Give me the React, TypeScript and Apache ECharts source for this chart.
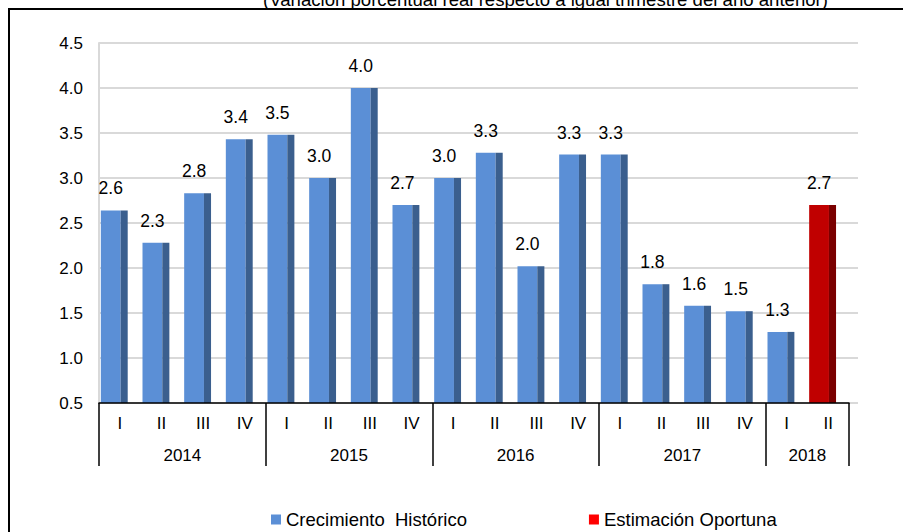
import React, { useEffect, useRef } from "react";
import * as echarts from "echarts";

const years = ["2014", "2015", "2016", "2017", "2018"];
const quartersPerYear = [4, 4, 4, 4, 2];
const quarterNames = ["I", "II", "III", "IV"];
const historico = [2.64, 2.28, 2.83, 3.43, 3.48, 3.0, 4.0, 2.7, 3.0, 3.28, 2.02, 3.26, 3.26, 1.82, 1.58, 1.52, 1.29];
const oportuna = [2.7];
const yTicks = { min: 0.5, max: 4.5, interval: 0.5 };
const titleText = "(Variación porcentual real respecto a igual trimestre del año anterior)";
const seriesNames = ["Crecimiento  Histórico", "Estimación Oportuna"];

const FONT = '"Liberation Sans", Arial, sans-serif';

export default function App() {
  const ref = useRef<HTMLDivElement>(null);
  useEffect(() => {
    document.body.style.margin = "0";
    if (!ref.current) return;
    const chart = echarts.init(ref.current, null, { renderer: "svg" });

    const quarters: string[] = [];
    quartersPerYear.forEach((n) => {
      for (let i = 0; i < n; i++) quarters.push(quarterNames[i]);
    });
    const N = quarters.length;
    const yearAxis: string[] = new Array(2 * N + 1).fill("");
    const boundaries = new Set<number>();
    let start = 0;
    quartersPerYear.forEach((n, k) => {
      boundaries.add(2 * start);
      yearAxis[2 * start + n] = years[k];
      start += n;
    });
    boundaries.add(2 * N);

    const histData = historico.map((v, i) => [i, v]);
    const opData = oportuna.map((v, i) => [historico.length + i, v]);

    const makeRender = (front: string, side: string) => (params: any, api: any) => {
      const idx = api.value(0);
      const v = api.value(1);
      const top = api.coord([idx, v]);
      const base = api.coord([idx, yTicks.min]);
      const w = api.size([1, 0])[0];
      const fw = w * 0.475;
      const sw = w * 0.17;
      const fl = top[0] - w * 0.456;
      const h = base[1] - top[1];
      return {
        type: "group",
        children: [
          { type: "rect", shape: { x: fl, y: top[1], width: fw, height: h }, style: { fill: front } },
          { type: "rect", shape: { x: fl + fw, y: top[1], width: sw, height: h }, style: { fill: side } },
          {
            type: "text",
            x: fl + fw / 2,
            y: top[1] - 22,
            style: {
              text: v.toFixed(1),
              fill: "#000",
              fontSize: 17.5,
              fontFamily: FONT,
              align: "center",
              verticalAlign: "middle",
            },
          },
        ],
      };
    };

    chart.setOption({
      animation: false,
      backgroundColor: "#fff",
      title: {
        text: titleText,
        left: 263,
        top: -10,
        padding: 0,
        textStyle: { fontSize: 18.6, fontWeight: "normal", color: "#000", fontFamily: FONT },
      },
      graphic: [
        {
          type: "rect",
          z: -10,
          shape: { x: 9, y: 9, width: 1000, height: 1000 },
          style: { fill: "none", stroke: "#000", lineWidth: 2 },
        },
      ],
      legend: {
        left: 271,
        top: 510,
        padding: 0,
        itemWidth: 10,
        itemHeight: 10,
        itemGap: 122,
        icon: "rect",
        textStyle: { fontSize: 18.5, color: "#000", fontFamily: FONT },
        data: [
          { name: seriesNames[0], itemStyle: { color: "#5B8FD6" } },
          { name: seriesNames[1], itemStyle: { color: "#FF0000" } },
        ],
      },
      grid: [
        { left: 99, top: 43, width: 759, height: 360 },
        { left: 99, top: 43, width: 750, height: 360 },
      ],
      xAxis: [
        { type: "value", gridIndex: 0, show: false, min: 0, max: 1 },
        {
          type: "category",
          gridIndex: 1,
          data: quarters,
          axisLine: { show: true, lineStyle: { color: "#000", width: 1.5 } },
          axisTick: { show: false },
          axisLabel: { color: "#000", fontSize: 17, fontFamily: FONT, margin: 12, interval: 0 },
          z: 5,
        },
        {
          type: "category",
          gridIndex: 1,
          position: "bottom",
          boundaryGap: false,
          data: yearAxis,
          axisLine: { show: false },
          axisTick: {
            show: true,
            length: 63,
            interval: (i: number) => boundaries.has(i),
            lineStyle: { color: "#000", width: 1.5 },
          },
          axisLabel: {
            color: "#000",
            fontSize: 17,
            fontFamily: FONT,
            margin: 44,
            interval: (i: number, v: string) => v !== "",
          },
          z: 5,
        },
      ],
      yAxis: [
        {
          type: "value",
          gridIndex: 0,
          min: yTicks.min,
          max: yTicks.max,
          interval: yTicks.interval,
          axisLine: { show: true, lineStyle: { color: "#D9D9D9", width: 2 } },
          axisTick: { show: false },
          splitLine: { show: true, lineStyle: { color: "#D9D9D9", width: 2 } },
          axisLabel: {
            color: "#000",
            fontSize: 17,
            fontFamily: FONT,
            margin: 16,
            formatter: (v: number) => v.toFixed(1),
          },
        },
        {
          type: "value",
          gridIndex: 1,
          min: yTicks.min,
          max: yTicks.max,
          interval: yTicks.interval,
          show: false,
          splitLine: { show: false },
        },
      ],
      series: [
        {
          name: seriesNames[0],
          type: "custom",
          xAxisIndex: 1,
          yAxisIndex: 1,
          clip: false,
          itemStyle: { color: "#5B8FD6" },
          encode: { x: 0, y: 1 },
          data: histData,
          renderItem: makeRender("#5B8FD6", "#3B5F8E"),
        },
        {
          name: seriesNames[1],
          type: "custom",
          xAxisIndex: 1,
          yAxisIndex: 1,
          clip: false,
          itemStyle: { color: "#FF0000" },
          encode: { x: 0, y: 1 },
          data: opData,
          renderItem: makeRender("#C00000", "#7A0000"),
        },
      ],
    });
    return () => chart.dispose();
  }, []);
  return <div ref={ref} style={{ width: 903, height: 532 }} />;
}
